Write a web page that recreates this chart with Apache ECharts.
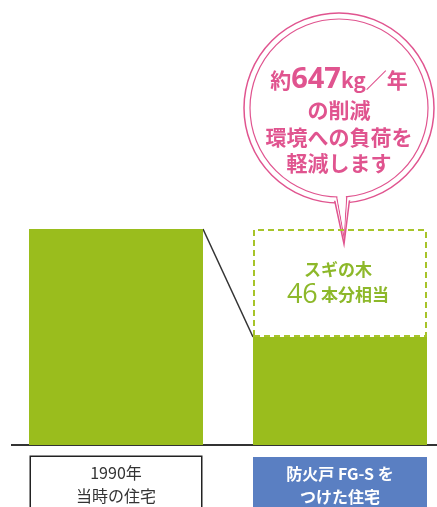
<!DOCTYPE html>
<html><head><meta charset="utf-8">
<script src="https://cdn.jsdelivr.net/npm/echarts@6/dist/echarts.min.js"></script>
<style>html,body{margin:0;padding:0;background:#fff}#c{width:437px;height:507px}</style>
</head><body><div id="c"></div>
<script>
const categories = ['1990年\n当時の住宅', '防火戸 FG-S を\nつけた住宅'];
const emissions = [1294, 647];
const reduction = [null, 647];
const bubbleLines = ['約647kg／年', 'の削減', '環境への負荷を', '軽減します'];
const treeLines = ['スギの木', '46 本分相当'];

const FONT = '"Noto Sans CJK JP", "Noto Sans", sans-serif';
const GREEN = '#9abd1d';
const PINK = '#e0548f';
const chart = echarts.init(document.getElementById('c'));
const BW = 174;
chart.setOption({
  animation: false,
  grid: { left: 4, right: -15, top: 229, bottom: 62, containLabel: false, outerBoundsMode: 'none' },
  xAxis: {
    type: 'category',
    data: [
      { value: categories[0], textStyle: { color: '#333', fontSize: 16, lineHeight: 23, fontFamily: FONT,
        backgroundColor: '#fff', borderColor: '#222', borderWidth: 1.5, width: 170, height: 46,
        padding: [4, 0, 20, 0], align: 'center' } },
      { value: categories[1], textStyle: { color: '#fff', fontSize: 16, fontWeight: 'bold', lineHeight: 23, fontFamily: FONT,
        backgroundColor: '#5a7fc2', width: 174, height: 46, padding: [5, 0, 20, 0], align: 'center' } }
    ],
    axisLine: { show: false }, axisTick: { show: false },
    axisLabel: { margin: 12, interval: 0, verticalAlign: 'top' }
  },
  yAxis: { type: 'value', min: 0, max: 1294, show: false, splitLine: { show: false } },
  series: [
    { type: 'bar', stack: 's', data: emissions, barWidth: BW, itemStyle: { color: GREEN } },
    { type: 'bar', stack: 's', data: reduction, barWidth: BW,
      itemStyle: { color: 'rgba(0,0,0,0)', borderColor: '#a7c42a', borderWidth: 2, borderType: [6, 4] } }
  ]
});

const p0 = chart.convertToPixel({ gridIndex: 0 }, [0, emissions[0]]);
const p1 = chart.convertToPixel({ gridIndex: 0 }, [1, emissions[1]]);
const base = chart.convertToPixel({ gridIndex: 0 }, [0, 0]);
const cx = 339, cy = 108;
chart.setOption({
  graphic: [
    { type: 'line', shape: { x1: 11, y1: base[1], x2: 437, y2: base[1] }, style: { stroke: '#333', lineWidth: 2 } },
    { type: 'line', shape: { x1: p0[0] + BW / 2, y1: p0[1], x2: p1[0] - BW / 2, y2: p1[1] }, style: { stroke: '#333', lineWidth: 1.5 } },
    { type: 'circle', shape: { cx: cx, cy: cy, r: 95 }, style: { fill: '#fff', stroke: PINK, lineWidth: 1.5 } },
    { type: 'polygon', shape: { points: [[cx - 7, cy + 80], [344, 244], [cx + 12, cy + 80]] }, style: { fill: '#fff', stroke: PINK, lineWidth: 1.5 } },
    { type: 'circle', shape: { cx: cx, cy: cy, r: 93 }, style: { fill: '#fff' } },
    { type: 'polygon', shape: { points: [[cx - 3, cy + 85], [344, 237], [cx + 8, cy + 85]] }, style: { fill: '#fff', stroke: PINK, lineWidth: 1.2 } },
    { type: 'circle', shape: { cx: cx, cy: cy, r: 89 }, style: { fill: '#fff', stroke: PINK, lineWidth: 1.2 } },
    { type: 'polygon', shape: { points: [[cx - 2, cy + 86], [344, 234], [cx + 7, cy + 86]] }, style: { fill: '#fff' } },
    { type: 'text', x: cx, y: 80, style: { text: '{a|約}{b|647}{a|kg／年}', align: 'center', verticalAlign: 'middle',
      rich: { a: { fontSize: 21, fontWeight: 'bold', fill: PINK, fontFamily: FONT }, b: { fontSize: 29, fontWeight: 'bold', fill: PINK, fontFamily: '"Open Sans", sans-serif' } } } },
    { type: 'text', x: cx, y: 110, style: { text: bubbleLines[1], fontSize: 21, fontWeight: 'bold', fill: PINK, fontFamily: FONT, align: 'center', verticalAlign: 'middle' } },
    { type: 'text', x: cx, y: 137, style: { text: bubbleLines[2], fontSize: 21, fontWeight: 'bold', fill: PINK, fontFamily: FONT, align: 'center', verticalAlign: 'middle' } },
    { type: 'text', x: cx, y: 163, style: { text: bubbleLines[3], fontSize: 21, fontWeight: 'bold', fill: PINK, fontFamily: FONT, align: 'center', verticalAlign: 'middle' } },
    { type: 'text', x: 338, y: 270, style: { text: treeLines[0], fontSize: 17, fontWeight: 'bold', fill: '#8db82a', fontFamily: FONT, align: 'center', verticalAlign: 'middle' } },
    { type: 'text', x: 338, y: 295, style: { text: '{b|46} {a|本分相当}', align: 'center', verticalAlign: 'middle',
      rich: { a: { fontSize: 17, fontWeight: 'bold', fill: '#8db82a', fontFamily: FONT }, b: { fontSize: 27, fill: '#8db82a', fontFamily: '"Open Sans", sans-serif' } } } }
  ]
});
</script></body></html>
